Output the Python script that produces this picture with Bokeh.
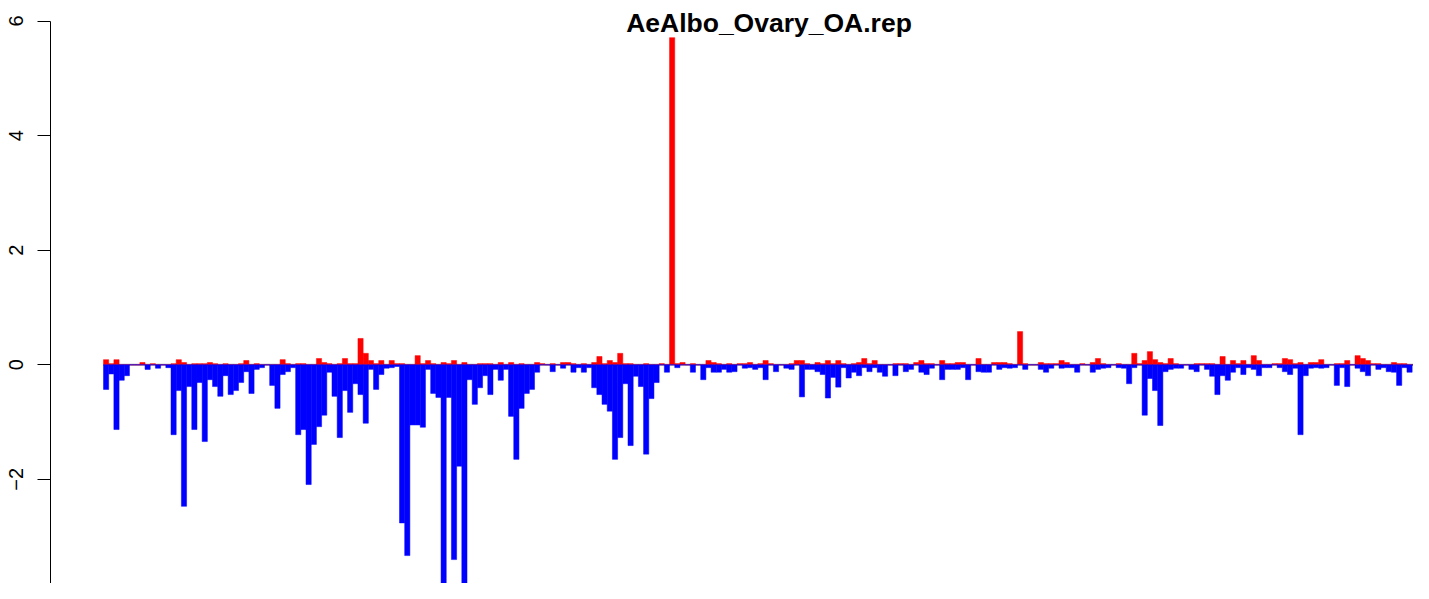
from bokeh.plotting import figure
from bokeh.models import Range1d, FixedTicker, Label, ColumnDataSource
from bokeh.embed import file_html
from bokeh.resources import INLINE

title = "AeAlbo_Ovary_OA.rep"

# positive (red) and negative (blue) values per window
pos = [
    .09, .02, .09, 0, 0, 0, 0, .04, 0, .02,
    0, 0, 0, .02, .09, .04, 0, .02, .02, .02,
    .04, .02, 0, .02, 0, 0, .02, .075, 0, .02,
    0, 0, 0, 0, .09, .02, 0, .02, .02, 0,
    0, .11, .04, .02, 0, .02, .11, .02, .02, .46,
    .20, .075, .02, .075, 0, .075, .02, .02, 0, 0,
    .16, .02, .075, .02, 0, .04, .02, .075, 0, .04,
    0, 0, .02, .02, .02, 0, .04, 0, .04, 0,
    .02, 0, 0, .04, .02, 0, .02, 0, .04, .04,
    .02, 0, .02, 0, .04, .145, .02, .075, .04, .20,
    .02, .02, 0, 0, .02, 0, 0, .02, 0, 5.71,
    .02, .04, 0, .02, 0, 0, .075, .04, .02, 0,
    .02, 0, .02, .02, .04, 0, .02, .075, .02, 0,
    0, 0, .02, .075, .075, .02, 0, .04, .02, .075,
    .02, .075, .02, 0, .02, .04, .11, .02, .075, 0,
    0, 0, .02, .02, .02, 0, .04, .075, .02, .02,
    0, .075, .02, .02, .04, .04, 0, 0, .11, 0,
    0, .04, .04, .04, .02, 0, .58, .02, 0, 0,
    .04, .02, .02, .02, .075, .04, 0, 0, .02, 0,
    .04, .11, .02, 0, 0, .02, 0, 0, .20, .02,
    .075, .23, .09, .04, .02, .11, .02, 0, 0, 0,
    .02, .02, .02, .02, 0, .145, 0, .075, .02, .075,
    0, .16, .075, 0, 0, .02, .02, .11, .09, .02,
    .04, 0, .04, .04, .09, 0, 0, .02, .02, .075,
    0, .16, .11, .075, .02, .02, 0, 0, .04, .02,
    .02, 0, 0, .02,
]
neg = [
    -.43, -.16, -1.13, -.27, -.19, 0, 0, 0, -.08, 0,
    -.06, 0, -.05, -1.22, -.45, -2.47, -.38, -1.13, -.31, -1.34,
    -.26, -.38, -.55, -.19, -.52, -.45, -.31, -.12, -.50, -.08,
    -.05, 0, -.36, -.76, -.17, -.12, -.05, -1.22, -1.13, -2.09,
    -1.39, -1.08, -.88, -.13, -.55, -1.27, -.45, -.83, -.33, -.52,
    -1.02, -.08, -.43, -.17, -.06, -.05, -.03, -2.76, -3.33, -1.05,
    -1.05, -1.09, -.08, -.50, -.57, -4.2, -.57, -3.40, -1.77, -4.2,
    -.26, -.69, -.40, -.19, -.52, -.08, -.27, -.08, -.90, -1.65,
    -.76, -.50, -.43, -.13, 0, 0, -.12, 0, -.06, 0,
    -.13, -.05, -.13, -.05, -.40, -.52, -.69, -.81, -1.65, -1.27,
    -.33, -1.41, -.20, -.38, -1.56, -.59, -.31, 0, -.13, 0,
    -.05, 0, 0, -.13, 0, -.26, -.05, -.13, -.13, -.08,
    -.13, -.12, 0, -.06, -.05, -.08, -.05, -.26, 0, -.12,
    0, -.06, -.08, 0, -.56, -.08, -.08, -.12, -.17, -.58,
    -.22, -.39, -.05, -.23, -.13, -.19, -.05, -.12, -.05, -.13,
    -.20, 0, -.19, 0, -.12, -.08, 0, -.13, -.17, -.06,
    0, -.26, -.08, -.08, -.08, -.05, -.26, 0, -.12, -.13,
    -.13, 0, -.08, -.05, -.06, -.05, 0, -.08, 0, 0,
    -.08, -.13, -.06, 0, -.06, -.05, -.05, -.13, 0, 0,
    -.13, -.08, -.06, -.05, 0, -.05, -.06, -.33, -.05, 0,
    -.88, -.24, -.45, -1.06, -.12, -.08, -.06, -.06, 0, -.08,
    -.12, 0, -.08, -.20, -.52, -.19, -.27, -.13, -.05, -.17,
    -.05, -.08, -.19, -.05, -.05, 0, -.05, -.12, -.17, -.06,
    -1.22, -.19, -.06, -.05, -.06, -.05, 0, -.36, -.05, -.38,
    0, -.06, -.12, -.19, 0, -.08, -.05, -.12, -.13, -.36,
    -.05, -.13, 0, 0,
]
y_ticks = [-4, -2, 0, 2, 4, 6]

n = min(len(pos), len(neg))
xs = [i + 0.5 for i in range(n)]
src = ColumnDataSource(dict(x=xs, pos=pos[:n], neg=neg[:n], zero=[0] * n))

p = figure(width=1413, height=583,
           x_range=Range1d(-19.834, 252.26), y_range=Range1d(-3.817, 6.358),
           output_backend="svg", toolbar_location=None,
           x_axis_location=None, y_axis_location="left",
           min_border_left=0, min_border_right=0, min_border_top=0, min_border_bottom=0)
p.outline_line_color = None
p.xgrid.visible = False
p.ygrid.visible = False
p.background_fill_color = "white"
p.border_fill_color = "white"

# zero reference line
p.segment(x0=[0], x1=[n + 3], y0=[0], y1=[0], line_color="#A6A6A6", line_width=2)

p.vbar(x="x", width=1, top="pos", bottom="zero", source=src,
       fill_color="#FF0000", line_color="#FF0000", line_width=0.5)
p.vbar(x="x", width=1, top="zero", bottom="neg", source=src,
       fill_color="#0000FF", line_color="#0000FF", line_width=0.5)

ax = p.yaxis[0]
ax.fixed_location = -10.206
ax.ticker = FixedTicker(ticks=y_ticks)
ax.bounds = (-4, 6)
ax.axis_line_color = "black"
ax.axis_line_width = 1
ax.major_tick_line_color = "black"
ax.major_tick_out = 13
ax.major_tick_in = 0
ax.minor_tick_line_color = None
ax.major_label_orientation = "vertical"
ax.major_label_text_font = "Liberation Sans"
ax.major_label_text_font_size = "20px"
ax.major_label_text_color = "black"
ax.major_label_standoff = 14

p.add_layout(Label(x=128.15, y=5.97, text=title, text_align="center",
                   text_baseline="alphabetic", text_font="Liberation Sans",
                   text_font_style="bold", text_font_size="26.5px",
                   text_color="black"))

open("out.html", "w").write(file_html(p, INLINE))
